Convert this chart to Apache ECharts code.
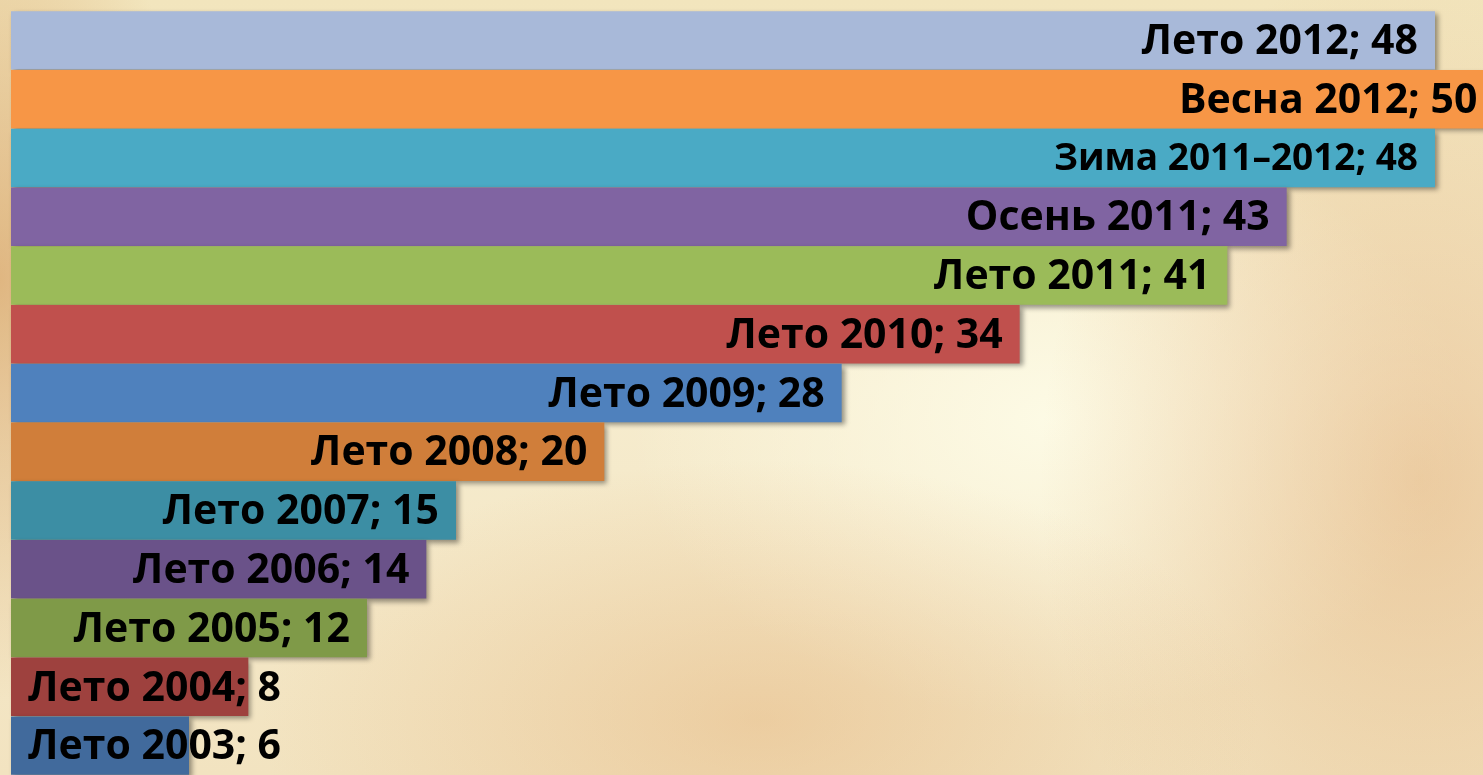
<!DOCTYPE html>
<html>
<head>
<meta charset="utf-8">
<script src="https://cdn.jsdelivr.net/npm/echarts@6/dist/echarts.min.js"></script>
<style>
  html, body { margin: 0; padding: 0; }
  body {
    width: 1483px; height: 775px; overflow: hidden;
    background:
      radial-gradient(ellipse 200px 420px at 0px 280px, rgba(206,140,70,0.55), rgba(206,140,70,0) 100%),
      radial-gradient(ellipse 500px 260px at 760px 720px, rgba(226,170,110,0.4), rgba(226,170,110,0) 100%),
      radial-gradient(ellipse 380px 520px at 1420px 480px, rgba(222,160,100,0.42), rgba(222,160,100,0) 100%),
      radial-gradient(ellipse 420px 300px at 1050px 420px, rgba(253,251,230,0.95), rgba(253,251,230,0) 100%),
      linear-gradient(180deg, #f2e5bd 0%, #f6ecce 50%, #f2e3c0 100%);
  }
  #chart { width: 1483px; height: 775px; }
</style>
</head>
<body>
<div id="chart"></div>
<script>
// периоды, сверху вниз
const periods = [
  'Лето 2012', 'Весна 2012', 'Зима 2011–2012', 'Осень 2011', 'Лето 2011',
  'Лето 2010', 'Лето 2009', 'Лето 2008', 'Лето 2007', 'Лето 2006',
  'Лето 2005', 'Лето 2004', 'Лето 2003'
];
const counts = [48, 50, 48, 43, 41, 34, 28, 20, 15, 14, 12, 8, 6];
const barColors = [
  '#a8b9d9', '#f79646', '#4aaac5', '#8064a2', '#9bbb59',
  '#c0504d', '#4f81bd', '#d07e3a', '#3c8ea4', '#6a5289',
  '#7f9a48', '#9e413e', '#416a9c'
];

const chart = echarts.init(document.getElementById('chart'), null, { renderer: 'canvas' });

const seriesData = counts.map((v, i) => {
  const item = {
    value: v,
    itemStyle: { color: barColors[i] }
  };
  // короткие столбцы: подпись не помещается, прижимаем к левому краю
  if (v < 10) {
    item.label = { position: 'insideLeft', distance: 17 };
  }
  if (periods[i].startsWith('Зима')) {
    item.label = { fontSize: 37 };
  }
  return item;
});

chart.setOption({
  backgroundColor: 'transparent',
  animation: false,
  grid: { left: 11, top: 11, width: 1424, height: 770 },
  xAxis: {
    type: 'value', min: 0, max: 48,
    show: false
  },
  yAxis: {
    type: 'category', data: periods, inverse: true,
    show: false
  },
  series: [{
    type: 'bar',
    data: seriesData,
    barCategoryGap: '0.5%',
    clip: false,
    itemStyle: {
      shadowColor: 'rgba(0,0,0,0.4)',
      shadowBlur: 5,
      shadowOffsetX: 3,
      shadowOffsetY: 3
    },
    label: {
      show: true,
      position: 'insideRight',
      distance: 17,
      offset: [0, 2],
      fontFamily: 'Open Sans',
      fontWeight: 'bold',
      fontSize: 41,
      color: '#000',
      formatter: p => periods[p.dataIndex] + '; ' + p.value
    }
  }]
});
</script>
</body>
</html>
